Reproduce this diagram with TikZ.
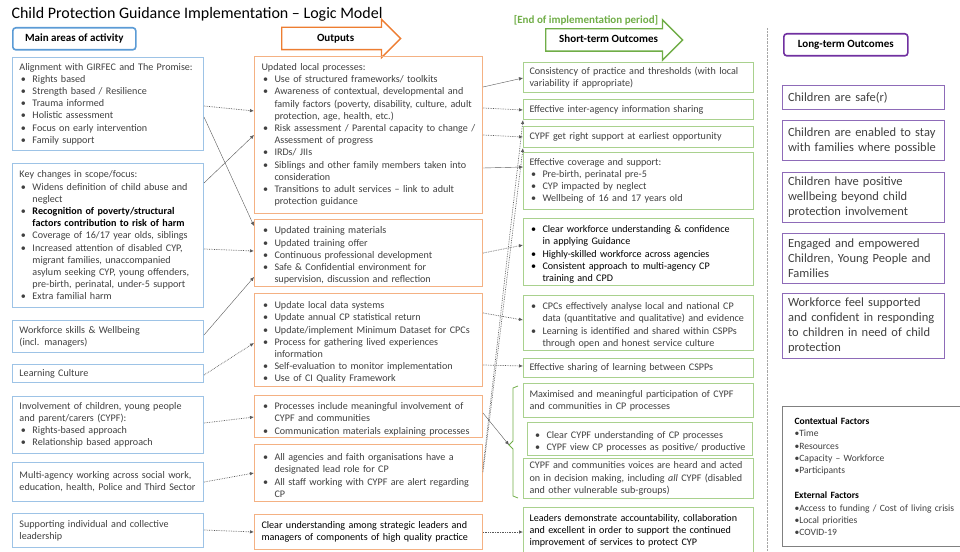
\documentclass[tikz,border=0pt]{standalone}
\usepackage{fontspec}
\setmainfont{Carlito}
\usetikzlibrary{arrows.meta,shapes.arrows}
\setlength{\parindent}{0pt}

\definecolor{actblue}{HTML}{9DC3E6}
\definecolor{hdrblue}{HTML}{5B9BD5}
\definecolor{outorange}{HTML}{F4B183}
\definecolor{arrorange}{HTML}{ED7D31}
\definecolor{stgreen}{HTML}{A9D18E}
\definecolor{arrgreen}{HTML}{70AD47}
\definecolor{ltpurple}{HTML}{8E6BB8}
\definecolor{hdrpurple}{HTML}{7030A0}
\definecolor{txtgray}{HTML}{404040}
\definecolor{linkgray}{HTML}{595959}

\newcommand{\blabel}[1]{\hspace{1.5pt}#1\hfil}
\newenvironment{blist}{\begin{list}{\textbullet}{\setlength{\leftmargin}{13pt}\setlength{\labelwidth}{13pt}\setlength{\labelsep}{0pt}\setlength{\itemsep}{0pt}\setlength{\parsep}{0pt}\setlength{\topsep}{0pt}\setlength{\partopsep}{0pt}\let\makelabel\blabel}}{\end{list}}

\tikzset{
  logicbox/.style={draw, anchor=north west, align=left, inner ysep=2pt, line width=1pt, text=txtgray, font=\fontsize{10.1}{12.2}\selectfont},
  actbox/.style={logicbox, draw=actblue, inner xsep=7pt, text width=177pt},
  outbox/.style={logicbox, draw=outorange, inner xsep=7pt, text width=214pt},
  stbox/.style={logicbox, draw=stgreen, inner xsep=6pt, text width=218pt},
  ltbox/.style={logicbox, draw=ltpurple, inner xsep=5.5pt, text width=151pt, font=\fontsize{12.5}{15}\selectfont},
  hdrbox/.style={draw, rounded corners=3pt, line width=1.6pt, font=\bfseries\fontsize{11}{12}\selectfont, anchor=north west, inner xsep=5pt, minimum height=22pt},
  hdrarrow/.style={single arrow, draw, line width=1.4pt, fill=white, single arrow head extend=8pt, text height=7.5pt, text depth=2pt, inner ysep=5.75pt, font=\bfseries\fontsize{11}{12}\selectfont, anchor=tail},
  link/.style={densely dotted, linkgray, line width=0.7pt, -{Latex[length=4pt,width=3.5pt]}},
  slink/.style={linkgray, line width=0.4pt, -{Latex[length=4pt,width=3.5pt]}},
}

\begin{document}
\begin{tikzpicture}[x=1pt,y=-1pt]
\useasboundingbox (0,0) rectangle (960,551);

\node[anchor=west, font=\fontsize{16}{18}\selectfont] (title) at (8,14) {Child Protection Guidance Implementation -- Logic Model};

\node[hdrbox, draw=hdrblue, minimum width=123pt] (hact) at (12,27) {Main areas of activity};
\node[hdrarrow, draw=arrorange, minimum height=119pt] (hout) at (281,38.5) {Outputs};
\node[text=arrgreen, font=\bfseries\fontsize{11}{12}\selectfont] (hend) at (586,20) {[End of implementation period]};
\node[hdrarrow, draw=arrgreen, minimum height=137pt, single arrow head extend=9pt] (hst) at (545,40) {Short-term Outcomes};
\node[hdrbox, draw=hdrpurple, minimum width=124pt] (hlt) at (783,33) {Long-term Outcomes};

\draw[densely dotted, gray!70] (767,28) -- (767,551);

% main areas of activity
\node[actbox, minimum height=93pt] (align) at (12,57) {Alignment with GIRFEC and The Promise:\begin{blist}\item Rights based\item Strength based / Resilience\item Trauma informed\item Holistic assessment\item Focus on early intervention\item Family support\end{blist}};
\node[actbox, minimum height=144pt] (scope) at (12,163) {Key changes in scope/focus:\begin{blist}\item Widens definition of child abuse and\newline neglect\item \textcolor{black}{\bfseries Recognition of poverty/structural\newline factors contribution to risk of harm}\item Coverage of 16/17 year olds, siblings\item Increased attention of disabled CYP,\newline migrant families, unaccompanied\newline asylum seeking CYP, young offenders,\newline pre-birth, perinatal, under-5 support\item Extra familial harm\end{blist}};
\node[actbox, minimum height=32pt] (skills) at (12,320) {Workforce skills \& Wellbeing\newline (incl. managers)};
\node[actbox, minimum height=18pt] (culture) at (12,364) {Learning Culture};
\node[actbox, minimum height=57pt] (involve) at (12,396) {Involvement of children, young people\newline and parent/carers (CYPF):\begin{blist}\item Rights-based approach\item Relationship based approach\end{blist}};
\node[actbox, minimum height=39pt] (multi) at (12,462) {Multi-agency working across social work,\newline education, health, Police and Third Sector};
\node[actbox, minimum height=34pt] (lead) at (12,513) {Supporting individual and collective\newline leadership};

% outputs
\node[outbox, minimum height=157pt] (procs) at (254,56) {Updated local processes:\begin{blist}\item Use of structured frameworks/ toolkits\item Awareness of contextual, developmental and\newline family factors (poverty, disability, culture, adult\newline protection, age, health, etc.)\item Risk assessment / Parental capacity to change /\newline Assessment of progress\item IRDs/ JIIs\item Siblings and other family members taken into\newline consideration\item Transitions to adult services -- link to adult\newline protection guidance\end{blist}};
\node[outbox, minimum height=67pt] (train) at (254,219) {\begin{blist}\item Updated training materials\item Updated training offer\item Continuous professional development\item Safe \& Confidential environment for\newline supervision, discussion and reflection\end{blist}};
\node[outbox, minimum height=93pt] (data) at (254,293) {\begin{blist}\item Update local data systems\item Update annual CP statistical return\item Update/implement Minimum Dataset for CPCs\item Process for gathering lived experiences\newline information\item Self-evaluation to monitor implementation\item Use of CI Quality Framework\end{blist}};
\node[outbox, minimum height=42pt] (partic) at (254,395) {\begin{blist}\item Processes include meaningful involvement of\newline CYPF and communities\item Communication materials explaining processes\end{blist}};
\node[outbox, minimum height=57pt] (agency) at (254,444) {\begin{blist}\item All agencies and faith organisations have a\newline designated lead role for CP\item All staff working with CYPF are alert regarding\newline CP\end{blist}};
\node[outbox, minimum height=35pt, text=black] (leaders) at (254,514) {Clear understanding among strategic leaders and\newline managers of components of high quality practice};

% short-term outcomes
\node[stbox, minimum height=30pt] (consist) at (523,62) {Consistency of practice and thresholds (with local\newline variability if appropriate)};
\node[stbox, minimum height=20pt] (infoshare) at (523,99) {Effective inter-agency information sharing};
\node[stbox, minimum height=21pt] (support) at (523,126) {CYPF get right support at earliest opportunity};
\node[stbox, minimum height=57pt] (cover) at (523,152) {Effective coverage and support:\begin{blist}\item Pre-birth, perinatal pre-5\item CYP impacted by neglect\item Wellbeing of 16 and 17 years old\end{blist}};
\node[stbox, minimum height=66pt, text=black] (wforce) at (523,218) {\begin{blist}\item Clear workforce understanding \& confidence\newline in applying Guidance\item Highly-skilled workforce across agencies\item Consistent approach to multi-agency CP\newline training and CPD\end{blist}};
\node[stbox, minimum height=53pt] (analyse) at (523,295) {\begin{blist}\item CPCs effectively analyse local and national CP\newline data (quantitative and qualitative) and evidence\item Learning is identified and shared within CSPPs\newline through open and honest service culture\end{blist}};
\node[stbox, minimum height=19pt] (learnshare) at (523,358) {Effective sharing of learning between CSPPs};
\node[stbox, minimum height=34pt] (maxpart) at (523,383) {Maximised and meaningful participation of CYPF\newline and communities in CP processes};
\node[stbox, minimum height=33pt, text width=213pt] (clear) at (527,422) {\begin{blist}\item Clear CYPF understanding of CP processes\item CYPF view CP processes as positive/ productive\end{blist}};
\node[stbox, minimum height=40pt] (voices) at (523,458) {CYPF and communities voices are heard and acted\newline on in decision making, including \textit{all} CYPF (disabled\newline and other vulnerable sub-groups)};
\node[stbox, minimum height=46pt, text=black] (account) at (523,507) {Leaders demonstrate accountability, collaboration\newline and excellent in order to support the continued\newline improvement of services to protect CYP};

\draw[arrgreen, line width=0.8pt] (518,386) -- (513,388) -- (513,441) -- (509,445) -- (513,449) -- (513,496) -- (518,498);
\coordinate (brk) at (509,445);

% long-term outcomes
\node[ltbox, minimum height=24pt] (safe) at (782,85) {Children are safe(r)};
\node[ltbox, minimum height=40pt] (stay) at (782,120) {Children are enabled to stay\newline with families where possible};
\node[ltbox, minimum height=50pt] (wellb) at (782,172) {Children have positive\newline wellbeing beyond child\newline protection involvement};
\node[ltbox, minimum height=50pt] (engaged) at (782,233) {Engaged and empowered\newline Children, Young People and\newline Families};
\node[ltbox, minimum height=65pt] (wfeel) at (782,293) {Workforce feel supported\newline and confident in responding\newline to children in need of child\newline protection};

\node[draw=gray, line width=1pt, anchor=north west, align=left, inner xsep=12pt, inner ysep=11pt, text width=175pt, text=txtgray, font=\fontsize{9.6}{12.4}\selectfont] (context) at (782,406) {\textcolor{black}{\bfseries Contextual Factors}\\ \textbullet Time\\ \textbullet Resources\\ \textbullet Capacity -- Workforce\\ \textbullet Participants\\[12.4pt] \textcolor{black}{\bfseries External Factors}\\ \textbullet Access to funding / Cost of living crisis\\ \textbullet Local priorities\\ \textbullet COVID-19};

% activity -> outputs
\draw[link] (align.east |- 0,106) -- (procs.west |- 0,111);
\draw[slink] (align.east |- 0,117) -- (train.west |- 0,226);
\draw[slink] (scope.east |- 0,183) -- (procs.west |- 0,135);
\draw[link] (scope.east |- 0,249) -- (train.west |- 0,251);
\draw[slink] (skills.east |- 0,335) -- (train.west |- 0,277);
\draw[link] (culture.east |- 0,375) -- (data.west |- 0,343);
\draw[link] (involve.east |- 0,423) -- (partic.west |- 0,417);
\draw[link] (multi.east |- 0,482) -- (agency.west |- 0,473);
\draw[link] (lead.east |- 0,530) -- (leaders.west |- 0,532);

% outputs -> short-term
\draw[slink] (procs.east |- 0,87) -- (consist.west |- 0,78);
\draw[link] (procs.east |- 0,108) -- (infoshare.west |- 0,110);
\draw[link] (procs.east |- 0,135) -- (support.west |- 0,137);
\draw[slink] (procs.east |- 0,168) -- (cover.west |- 0,167);
\draw[link] (train.east |- 0,253) -- (wforce.west |- 0,245);
\draw[link] (data.east |- 0,313) -- (analyse.west |- 0,320);
\draw[link] (data.east |- 0,365) -- (learnshare.west |- 0,366);
\draw[slink] (partic.east |- 0,413) -- (brk);
\draw[link] (agency.east |- 0,468) -- (infoshare.south west);
\draw[link] (agency.east |- 0,472) -- (support.south west);
\draw[link] (leaders.east |- 0,532) -- (account.west |- 0,532);
\end{tikzpicture}
\end{document}
